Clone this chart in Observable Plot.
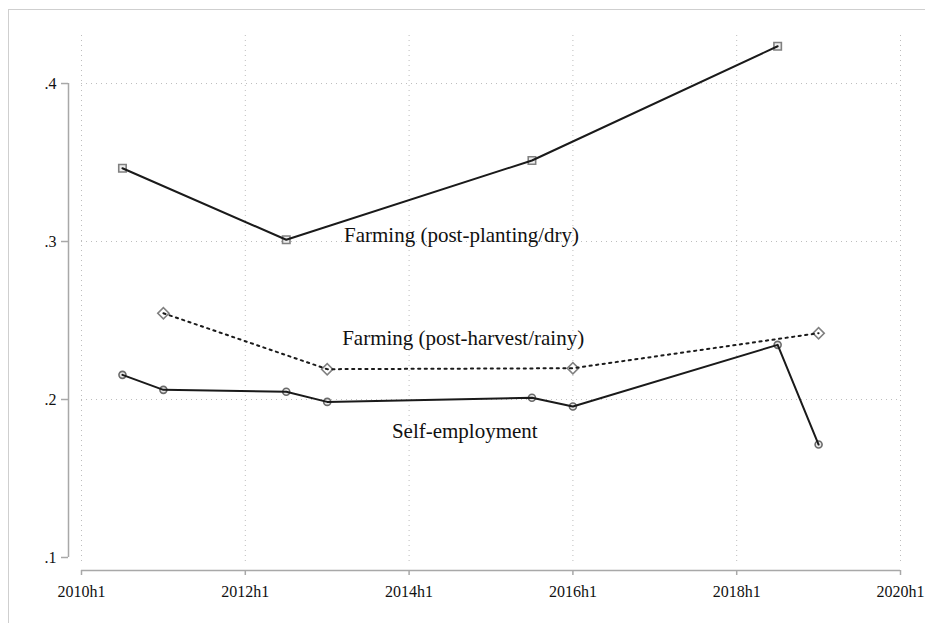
<!DOCTYPE html>
<html><head><meta charset="utf-8">
<script src="https://cdn.jsdelivr.net/npm/d3@7"></script>
<script src="https://cdn.jsdelivr.net/npm/@observablehq/plot@0.6"></script>
<style>
body{margin:0;background:#fff;overflow:hidden}
#wrap{position:relative;width:925px;height:623px;overflow:hidden}
#frame{position:absolute;left:8px;top:9px;width:1000px;height:1000px;border-top:1px solid #cfcfcf;border-left:1px solid #cfcfcf;pointer-events:none}
#wrap svg text{font-family:'Liberation Serif','Times New Roman',serif}
</style></head><body><div id="wrap"><div id="frame"></div></div>
<script>
// half-year periods encoded as year + 0 (h1) or year + 0.5 (h2)
const xTicks = [2010, 2012, 2014, 2016, 2018, 2020];
const yTicks = [0.1, 0.2, 0.3, 0.4];
const yGrid = [0.2, 0.3, 0.4];

const plantingX = [2010.5, 2012.5, 2015.5, 2018.5];
const plantingY = [0.3464, 0.3011, 0.3513, 0.4236];

const harvestX = [2011, 2013, 2016, 2019];
const harvestY = [0.2546, 0.2192, 0.2198, 0.2420];

const selfX = [2010.5, 2011, 2012.5, 2013, 2015.5, 2016, 2018.5, 2019];
const selfY = [0.2156, 0.2061, 0.2049, 0.1985, 0.2011, 0.1956, 0.2346, 0.1715];

const labelText = ["Farming (post-planting/dry)", "Farming (post-harvest/rainy)", "Self-employment"];
const labelX = [2014.64, 2014.66, 2014.68];
const labelY = [0.3038, 0.2386, 0.1797];

const yLo = 0.0962, yHi = 0.4304;

const toRows = (xs, ys) => xs.map((x, i) => ({x, y: ys[i]}));
const planting = toRows(plantingX, plantingY);
const harvest = toRows(harvestX, harvestY);
const self = toRows(selfX, selfY);
const labels = labelText.map((t, i) => ({t, x: labelX[i], y: labelY[i]}));

const font = "'Liberation Serif', 'Times New Roman', serif";
const fmtX = d => `${d}h1`;
const fmtY = d => String(d).replace(/^0/, "");
const markerStroke = "#808080";
const lineStroke = "#1a1a1a";
const axisGray = "#a8a8a8";

const chart = Plot.plot({
  width: 925,
  height: 623,
  marginLeft: 81,
  marginRight: 25,
  marginTop: 35,
  marginBottom: 60,
  style: {fontFamily: font, background: "transparent", color: "#111"},
  x: {domain: [2010, 2020]},
  y: {domain: [yLo, yHi]},
  marks: [
    Plot.gridX(xTicks, {stroke: "#bdbdbd", strokeOpacity: 1, strokeWidth: 1, strokeDasharray: "1,4"}),
    Plot.gridY(yGrid, {stroke: "#bdbdbd", strokeOpacity: 1, strokeWidth: 1, strokeDasharray: "1,4"}),
    Plot.ruleX([2010], {y1: 0.1, y2: 0.4, dx: -13, stroke: axisGray, strokeWidth: 1.5}),
    Plot.ruleY([yLo], {x1: 2010, x2: 2020, dy: 7, stroke: axisGray, strokeWidth: 1.5}),
    Plot.axisY(yTicks, {anchor: "left", dx: -13, tickSize: 7, tickPadding: 5, tickFormat: fmtY, fontSize: 16, fontFamily: font, stroke: axisGray, strokeWidth: 1.5, fill: "#111", label: null}),
    Plot.axisX(xTicks, {anchor: "bottom", dy: 7, tickSize: 5, tickPadding: 10, tickFormat: fmtX, fontSize: 16, fontFamily: font, stroke: axisGray, strokeWidth: 1.5, fill: "#111", label: null}),
    Plot.dot(planting, {x: "x", y: "y", symbol: "square", r: 4.2, stroke: markerStroke, strokeWidth: 1.6, fill: "#eeeeee"}),
    Plot.dot(harvest, {x: "x", y: "y", symbol: "square", rotate: 45, r: 4.5, stroke: markerStroke, strokeWidth: 1.6, fill: "white"}),
    Plot.dot(self, {x: "x", y: "y", symbol: "circle", r: 3.5, stroke: "#6a6a6a", strokeWidth: 1.6, fill: "#e8e8e8"}),
    Plot.line(planting, {x: "x", y: "y", stroke: lineStroke, strokeWidth: 2}),
    Plot.line(harvest, {x: "x", y: "y", stroke: lineStroke, strokeWidth: 2, strokeDasharray: "2.2,4.4"}),
    Plot.line(self, {x: "x", y: "y", stroke: lineStroke, strokeWidth: 2}),
    Plot.text(labels, {x: "x", y: "y", text: "t", fontSize: 21, fontFamily: font, fill: "#111", lineAnchor: "middle"})
  ]
});
document.getElementById("wrap").prepend(chart);
</script>
</body></html>
